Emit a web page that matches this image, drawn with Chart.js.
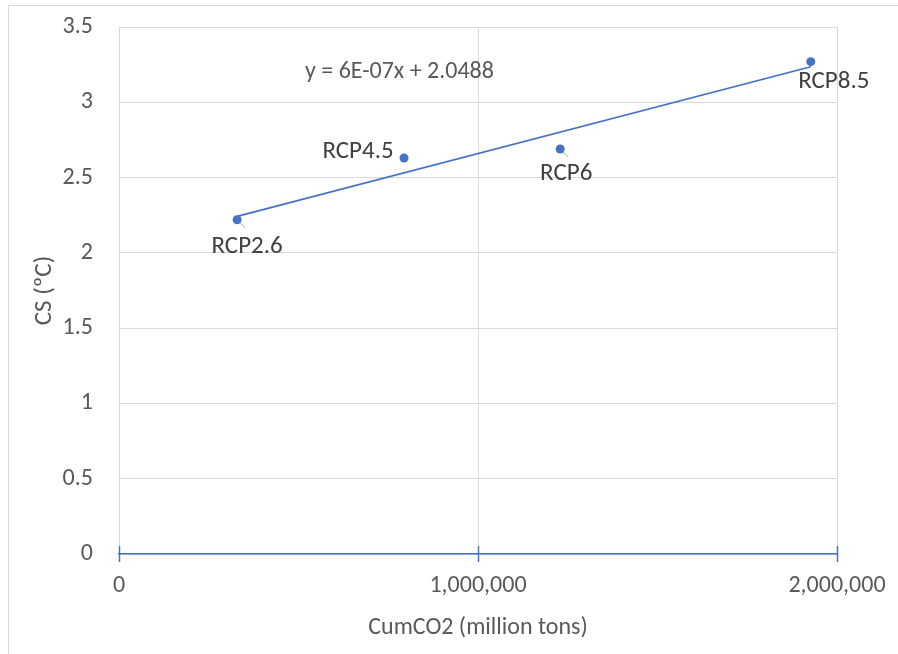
<!DOCTYPE html>
<html>
<head>
<meta charset="utf-8">
<script src="https://cdn.jsdelivr.net/npm/chart.js@4"></script>
<style>
  html, body { margin: 0; padding: 0; background: #fff; }
  #wrap { position: relative; width: 898px; height: 654px; }
  #frame { position: absolute; left: 8px; top: 5px; width: 900px; height: 660px;
           border-left: 1.5px solid #d9d9d9; border-top: 1.5px solid #d9d9d9; box-sizing: border-box; }
  canvas { position: absolute; left: 0; top: 0; }
</style>
</head>
<body>
<div id="wrap">
  <div id="frame"></div>
  <canvas id="c" width="898" height="654"></canvas>
</div>
<script>
// ---- data ----
const scenarios = ['RCP2.6', 'RCP4.5', 'RCP6', 'RCP8.5'];
const cumCO2 = [329000, 794000, 1229000, 1927000];   // million tons
const cs = [2.22, 2.63, 2.69, 3.27];                  // ºC
const xTicks = [0, 1000000, 2000000];
const yTicks = [0, 0.5, 1, 1.5, 2, 2.5, 3, 3.5];
const equationText = 'y = 6E-07x + 2.0488';
const xTitle = 'CumCO2 (million tons)';
const yTitle = 'CS (ºC)';

// linear trendline (least squares) from the points
function fit(xs, ys) {
  const n = xs.length;
  const mx = xs.reduce((a, b) => a + b, 0) / n;
  const my = ys.reduce((a, b) => a + b, 0) / n;
  let sxy = 0, sxx = 0;
  for (let i = 0; i < n; i++) { sxy += (xs[i] - mx) * (ys[i] - my); sxx += (xs[i] - mx) ** 2; }
  const m = sxy / sxx;
  return { m, b: my - m * mx };
}
const reg = fit(cumCO2, cs);
const xMin = Math.min(...cumCO2), xMax = Math.max(...cumCO2);
const trend = [xMin, xMax].map(x => ({ x, y: reg.m * x + reg.b }));

const FONT = "Carlito, Calibri, Lato, 'Noto Sans', sans-serif";
const BLUE = '#4472C4';
const GREY = '#595959';

// label placement (pixel offsets of label centre from its point)
const labelOffsets = [[10, 27], [-46, -6], [6, 25], [23, 20]];
// equation anchor (data space)
const eqAnchor = { x: 518000, y: 3.2 };

const overlay = {
  id: 'overlay',
  afterDatasetsDraw(chart) {
    const { ctx, scales: { x, y }, chartArea } = chart;
    ctx.save();
    // crossing tick marks on the x axis
    ctx.strokeStyle = BLUE;
    ctx.lineWidth = 1.5;
    xTicks.forEach(v => {
      const px = Math.round(x.getPixelForValue(v)) + 0.5;
      ctx.beginPath();
      ctx.moveTo(px, chartArea.bottom - 8);
      ctx.lineTo(px, chartArea.bottom + 8);
      ctx.stroke();
    });
    // data labels
    ctx.fillStyle = '#404040';
    ctx.font = '25px ' + FONT;
    ctx.textAlign = 'center';
    ctx.textBaseline = 'middle';
    scenarios.forEach((name, i) => {
      const px = x.getPixelForValue(cumCO2[i]);
      const py = y.getPixelForValue(cs[i]);
      ctx.fillText(name, px + labelOffsets[i][0], py + labelOffsets[i][1]);
    });
    // leader lines for moved labels
    ctx.strokeStyle = '#a6a6a6';
    ctx.lineWidth = 1;
    [0, 2].forEach(i => {
      const px = x.getPixelForValue(cumCO2[i]);
      const py = y.getPixelForValue(cs[i]);
      ctx.beginPath();
      ctx.moveTo(px + 3, py + 3);
      ctx.lineTo(px + 8, py + 8);
      ctx.stroke();
    });
    // trendline equation
    ctx.fillStyle = GREY;
    ctx.font = '24px ' + FONT;
    ctx.textAlign = 'left';
    ctx.fillText(equationText, x.getPixelForValue(eqAnchor.x), y.getPixelForValue(eqAnchor.y));
    ctx.restore();
  }
};

new Chart(document.getElementById('c'), {
  type: 'scatter',
  data: {
    datasets: [
      {
        label: 'Trend',
        type: 'line',
        data: trend,
        borderColor: BLUE,
        borderWidth: 1.8,
        pointRadius: 0,
        fill: false,
        order: 2
      },
      {
        label: 'CS',
        data: cumCO2.map((v, i) => ({ x: v, y: cs[i] })),
        backgroundColor: BLUE,
        borderColor: BLUE,
        pointRadius: 4.5,
        pointBorderWidth: 0,
        order: 1
      }
    ]
  },
  options: {
    responsive: false,
    animation: false,
    layout: { padding: { left: 0, top: 27, right: 61, bottom: 0 } },
    plugins: { legend: { display: false }, tooltip: { enabled: false } },
    scales: {
      x: {
        type: 'linear',
        min: 0, max: 2000000,
        afterBuildTicks: s => { s.ticks = xTicks.map(v => ({ value: v })); },
        ticks: {
          color: GREY, font: { family: FONT, size: 24 }, padding: 0,
          maxRotation: 0,
          callback: v => Number(v).toLocaleString('en-US')
        },
        grid: { color: '#d9d9d9', lineWidth: 1, drawTicks: true, tickLength: 18, tickColor: 'rgba(0,0,0,0)' },
        border: { color: BLUE, width: 1.5, z: 1 },
        title: { display: true, text: xTitle, color: GREY, font: { family: FONT, size: 24 }, padding: { top: 12, bottom: 12 } },
        afterFit: s => { s.height = 654 - 554; }
      },
      y: {
        type: 'linear',
        min: 0, max: 3.5,
        afterBuildTicks: s => { s.ticks = yTicks.map(v => ({ value: v })); },
        ticks: { color: GREY, font: { family: FONT, size: 24 }, padding: 0, callback: v => String(v) },
        grid: { color: '#d9d9d9', lineWidth: 1, drawTicks: true, tickLength: 26, tickColor: 'rgba(0,0,0,0)' },
        border: { display: false },
        title: { display: true, text: yTitle, color: GREY, font: { family: FONT, size: 25 }, padding: { top: 30, bottom: 0 } },
        afterFit: s => { s.width = 119; }
      }
    }
  },
  plugins: [overlay]
});
</script>
</body>
</html>
